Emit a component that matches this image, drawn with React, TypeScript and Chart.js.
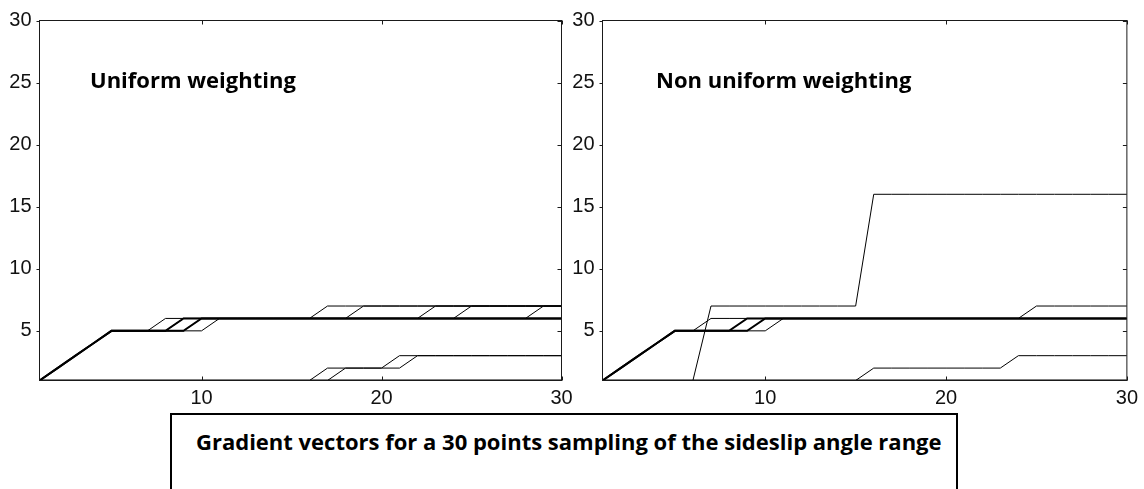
import React, { useEffect, useRef } from "react";
import { Chart, registerables } from "chart.js";

Chart.register(...registerables);

// ---------- data ----------
const SAMPLE_INDEX = [1, 2, 3, 4, 5, 6, 7, 8, 9, 10, 11, 12, 13, 14, 15, 16, 17, 18, 19, 20, 21, 22, 23, 24, 25, 26, 27, 28, 29, 30];
const X_TICKS = [10, 20, 30];
const Y_TICKS = [5, 10, 15, 20, 25, 30];

const LEFT_TITLE = "Uniform weighting";
const RIGHT_TITLE = "Non uniform weighting";
const CAPTION = "Gradient vectors for a 30 points sampling of the sideslip angle range";

// Uniform weighting
const U_A = [1, 2, 3, 4, 5, 5, 5, 6, 6, 6, 6, 6, 6, 6, 6, 6, 7, 7, 7, 7, 7, 7, 7, 7, 7, 7, 7, 7, 7, 7];
const U_B = [1, 2, 3, 4, 5, 5, 5, 5, 6, 6, 6, 6, 6, 6, 6, 6, 6, 6, 6, 6, 6, 6, 6, 6, 6, 6, 6, 6, 6, 6];
const U_C = [1, 2, 3, 4, 5, 5, 5, 5, 5, 6, 6, 6, 6, 6, 6, 6, 6, 6, 6, 6, 6, 6, 6, 6, 6, 6, 6, 6, 6, 6];
const U_D = [1, 2, 3, 4, 5, 5, 5, 5, 5, 5, 6, 6, 6, 6, 6, 6, 6, 6, 7, 7, 7, 7, 7, 7, 7, 7, 7, 7, 7, 7];
const U_E = [1, 2, 3, 4, 5, 5, 5, 5, 6, 6, 6, 6, 6, 6, 6, 6, 6, 6, 6, 6, 6, 6, 7, 7, 7, 7, 7, 7, 7, 7];
const U_F = [1, 2, 3, 4, 5, 5, 5, 5, 5, 6, 6, 6, 6, 6, 6, 6, 6, 6, 6, 6, 6, 6, 6, 6, 7, 7, 7, 7, 7, 7];
const U_G = [1, 2, 3, 4, 5, 5, 5, 5, 6, 6, 6, 6, 6, 6, 6, 6, 6, 6, 6, 6, 6, 6, 6, 6, 6, 6, 6, 6, 7, 7];
const U_H = [1, 1, 1, 1, 1, 1, 1, 1, 1, 1, 1, 1, 1, 1, 1, 1, 2, 2, 2, 2, 3, 3, 3, 3, 3, 3, 3, 3, 3, 3];
const U_I = [1, 1, 1, 1, 1, 1, 1, 1, 1, 1, 1, 1, 1, 1, 1, 1, 1, 2, 2, 2, 2, 3, 3, 3, 3, 3, 3, 3, 3, 3];
const U_J = [1, 1, 1, 1, 1, 1, 1, 1, 1, 1, 1, 1, 1, 1, 1, 1, 1, 1, 1, 1, 1, 1, 1, 1, 1, 1, 1, 1, 1, 1];

// Non uniform weighting
const N_A = [1, 1, 1, 1, 1, 1, 7, 7, 7, 7, 7, 7, 7, 7, 7, 16, 16, 16, 16, 16, 16, 16, 16, 16, 16, 16, 16, 16, 16, 16];
const N_B = [1, 1, 1, 1, 1, 1, 1, 1, 1, 1, 1, 1, 1, 1, 1, 2, 2, 2, 2, 2, 2, 2, 2, 3, 3, 3, 3, 3, 3, 3];
const N_C = [1, 2, 3, 4, 5, 5, 6, 6, 6, 6, 6, 6, 6, 6, 6, 6, 6, 6, 6, 6, 6, 6, 6, 6, 7, 7, 7, 7, 7, 7];
const N_D = [1, 2, 3, 4, 5, 5, 5, 5, 6, 6, 6, 6, 6, 6, 6, 6, 6, 6, 6, 6, 6, 6, 6, 6, 6, 6, 6, 6, 6, 6];
const N_E = [1, 2, 3, 4, 5, 5, 5, 5, 5, 6, 6, 6, 6, 6, 6, 6, 6, 6, 6, 6, 6, 6, 6, 6, 6, 6, 6, 6, 6, 6];
const N_F = [1, 2, 3, 4, 5, 5, 5, 5, 5, 5, 6, 6, 6, 6, 6, 6, 6, 6, 6, 6, 6, 6, 6, 6, 6, 6, 6, 6, 6, 6];
const N_G = [1, 1, 1, 1, 1, 1, 1, 1, 1, 1, 1, 1, 1, 1, 1, 1, 1, 1, 1, 1, 1, 1, 1, 1, 1, 1, 1, 1, 1, 1];

const LEFT_SERIES = [U_A, U_B, U_C, U_D, U_E, U_F, U_G, U_H, U_I, U_J];
const LEFT_WIDTHS = [1, 2, 2, 1, 1, 1, 1, 1, 1, 2];
const RIGHT_SERIES = [N_A, N_B, N_C, N_D, N_E, N_F, N_G];
const RIGHT_WIDTHS = [1, 1, 1, 2, 2, 1, 2];

// ---------- chart helpers ----------
const TICK_FONT = { family: "'Liberation Sans', Arial, sans-serif", size: 20 };

const framePlugin = {
  id: "matlabFrame",
  afterDatasetsDraw(chart: any) {
    const { ctx, chartArea: a, scales } = chart;
    ctx.save();
    ctx.strokeStyle = "#1a1a1a";
    ctx.lineWidth = 1;
    ctx.strokeRect(a.left, a.top, a.right - a.left, a.bottom - a.top);
    ctx.beginPath();
    for (const v of Y_TICKS) {
      const y = Math.round(scales.y.getPixelForValue(v)) + 0.5;
      ctx.moveTo(a.left - 3, y);
      ctx.lineTo(a.left, y);
      ctx.moveTo(a.right - 4, y);
      ctx.lineTo(a.right, y);
    }
    for (const v of X_TICKS) {
      const x = Math.round(scales.x.getPixelForValue(v)) + 0.5;
      ctx.moveTo(x, a.bottom);
      ctx.lineTo(x, a.bottom - 4);
      ctx.moveTo(x, a.top);
      ctx.lineTo(x, a.top + 4);
    }
    ctx.stroke();
    ctx.restore();
  },
};

function buildConfig(series: number[][], widths: number[], yAxisWidth: number, padRight: number): any {
  return {
    type: "line",
    data: {
      datasets: series.map((s, i) => ({
        data: s.map((v, j) => ({ x: SAMPLE_INDEX[j], y: v })),
        borderColor: "#000",
        borderWidth: widths[i],
        pointRadius: 0,
        tension: 0,
        fill: false,
      })),
    },
    options: {
      animation: false,
      responsive: false,
      maintainAspectRatio: false,
      layout: { padding: { top: 20.5, right: padRight, left: 0, bottom: 0 } },
      plugins: { legend: { display: false }, tooltip: { enabled: false }, title: { display: false } },
      scales: {
        x: {
          type: "linear",
          min: 1,
          max: 30,
          grid: { display: false, drawTicks: false },
          border: { display: false },
          ticks: { font: TICK_FONT, color: "#111", padding: 6, autoSkip: false, maxRotation: 0 },
          afterBuildTicks: (scale: any) => {
            scale.ticks = X_TICKS.map((v) => ({ value: v }));
          },
          afterFit: (scale: any) => {
            scale.height = 31.5;
          },
        },
        y: {
          type: "linear",
          min: 1,
          max: 30,
          grid: { display: false, drawTicks: false },
          border: { display: false },
          ticks: { font: TICK_FONT, color: "#111", padding: 8, autoSkip: false },
          afterBuildTicks: (scale: any) => {
            scale.ticks = Y_TICKS.map((v) => ({ value: v }));
          },
          afterFit: (scale: any) => {
            scale.width = yAxisWidth;
          },
        },
      },
    },
    plugins: [framePlugin],
  };
}

function Panel(props: { left: number; width: number; series: number[][]; widths: number[]; yAxisWidth: number; padRight: number }) {
  const ref = useRef<HTMLCanvasElement | null>(null);
  useEffect(() => {
    if (!ref.current) return;
    const chart = new Chart(ref.current, buildConfig(props.series, props.widths, props.yAxisWidth, props.padRight));
    return () => chart.destroy();
  }, []);
  return (
    <canvas
      ref={ref}
      width={props.width}
      height={412}
      style={{ position: "absolute", left: props.left, top: 0, width: props.width, height: 412 }}
    />
  );
}

const titleStyle: React.CSSProperties = {
  position: "absolute",
  fontFamily: "'Open Sans', Lato, sans-serif",
  fontWeight: 700,
  fontSize: 22,
  lineHeight: "22px",
  color: "#000",
  whiteSpace: "nowrap",
};

export default function App() {
  return (
    <div style={{ position: "absolute", left: 0, top: 0, width: 1144, height: 489, background: "#fff", overflow: "hidden" }}>
      <Panel left={0} width={580} series={LEFT_SERIES} widths={LEFT_WIDTHS} yAxisWidth={39.5} padRight={18.5} />
      <Panel left={572} width={572} series={RIGHT_SERIES} widths={RIGHT_WIDTHS} yAxisWidth={30.5} padRight={16.5} />
      <div style={{ ...titleStyle, left: 90, top: 68 }}>{LEFT_TITLE}</div>
      <div style={{ ...titleStyle, left: 656, top: 68 }}>{RIGHT_TITLE}</div>
      <div
        style={{
          position: "absolute",
          left: 170,
          top: 413,
          width: 788,
          height: 100,
          border: "2px solid #000",
          boxSizing: "border-box",
        }}
      />
      <div style={{ ...titleStyle, left: 196, top: 430 }}>{CAPTION}</div>
    </div>
  );
}
